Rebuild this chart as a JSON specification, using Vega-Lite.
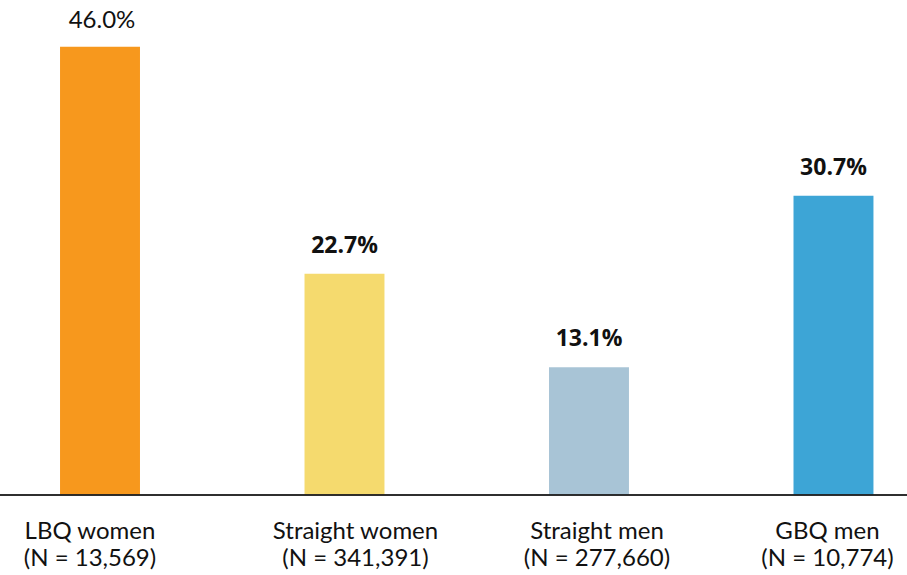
{
  "$schema": "https://vega.github.io/schema/vega-lite/v6.json",
  "width": 899,
  "height": 495,
  "autosize": {"type": "none"},
  "padding": {"left": 8, "right": 0, "top": 0, "bottom": 80},
  "background": "white",
  "config": {"view": {"stroke": null}},
  "data": {
    "values": [
      {"group": "LBQ women\n(N = 13,569)", "pct": 46.0, "label": "46.0%"},
      {"group": "Straight women\n(N = 341,391)", "pct": 22.7, "label": "22.7%"},
      {"group": "Straight men\n(N = 277,660)", "pct": 13.1, "label": "13.1%"},
      {"group": "GBQ men\n(N = 10,774)", "pct": 30.7, "label": "30.7%"}
    ]
  },
  "encoding": {
    "x": {
      "field": "group",
      "type": "nominal",
      "sort": null,
      "scale": {"paddingInner": 0.673, "paddingOuter": 0.175, "align": 0.608},
      "axis": {
        "title": null,
        "domain": false,
        "ticks": false,
        "labelAngle": 0,
        "labelFont": "Lato",
        "labelFontSize": 24,
        "labelColor": "#111111",
        "labelPadding": 24,
        "labelLineHeight": 27,
        "labelBaseline": "top",
        "labelExpr": "split(datum.label, '\\n')",
        "labelOffset": {
          "condition": [
            {"test": "indexof(datum.value, 'LBQ') >= 0", "value": -10},
            {"test": "indexof(datum.value, 'Straight women') >= 0", "value": 11},
            {"test": "indexof(datum.value, 'Straight men') >= 0", "value": 8},
            {"test": "indexof(datum.value, 'GBQ') >= 0", "value": -6}
          ],
          "value": 0
        }
      }
    }
  },
  "layer": [
    {
      "mark": {"type": "bar"},
      "encoding": {
        "y": {"field": "pct", "type": "quantitative", "scale": {"domain": [0, 50.8], "nice": false}, "axis": null},
        "color": {
          "field": "group",
          "type": "nominal",
          "sort": null,
          "scale": {"range": ["#F7981D", "#F5DA6E", "#A8C4D6", "#3DA5D6"]},
          "legend": null
        }
      }
    },
    {
      "transform": [{"filter": "datum.label == '46.0%'"}],
      "mark": {"type": "text", "baseline": "alphabetic", "dy": -19, "dx": 2, "font": "Lato", "fontSize": 24, "color": "#111111"},
      "encoding": {
        "y": {"field": "pct", "type": "quantitative"},
        "text": {"field": "label"}
      }
    },
    {
      "transform": [{"filter": "datum.label != '46.0%'"}],
      "mark": {"type": "text", "baseline": "alphabetic", "dy": -21, "font": "Open Sans", "fontWeight": "bold", "fontSize": 23, "color": "#111111"},
      "encoding": {
        "y": {"field": "pct", "type": "quantitative"},
        "text": {"field": "label"}
      }
    },
    {
      "mark": {"type": "rule", "color": "#222222", "strokeWidth": 1.2},
      "encoding": {"y": {"datum": 0}, "x": {"value": -8}, "x2": {"value": 899}}
    }
  ]
}
